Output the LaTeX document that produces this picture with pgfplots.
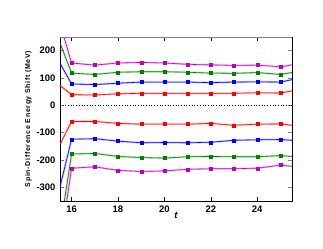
\documentclass[border=0pt]{standalone}
\usepackage{fontspec}
\setmainfont{Liberation Sans}
\newfontfamily\lblfont[LetterSpace=10]{Liberation Sans}
\usepackage{pgfplots}
\pgfplotsset{compat=1.18}
\definecolor{cRed}{RGB}{255,0,0}
\definecolor{cBlue}{RGB}{0,0,255}
\definecolor{cGreen}{RGB}{0,128,0}
\definecolor{cPurp}{RGB}{190,0,190}
\begin{document}
\begin{tikzpicture}
\begin{axis}[
  scale only axis, width=232bp, height=164bp,
  xmin=15.5, xmax=25.5, ymin=-350, ymax=250,
  xtick={16,18,20,22,24}, ytick={-300,-200,-100,0,100,200},
  tick align=inside,
  major tick length=4bp,
  ytick style={gray, line width=1pt},
  xtick style={black, line width=0.6pt},
  axis line style={line width=0.9pt},
  /pgf/number format/assume math mode=true,
  tick label style={font=\fontsize{9.5}{10}\selectfont\bfseries},
  xticklabel style={yshift=-1bp},
  yticklabel style={xshift=-1bp},
  xlabel={\textit{t}}, xlabel style={font=\fontsize{9.5}{10}\selectfont\bfseries, yshift=7bp},
  ylabel={Spin-Difference Energy Shift (MeV)},
  ylabel style={font=\lblfont\fontsize{7}{8}\selectfont\bfseries, yshift=-2bp},
  clip=true,
]
\pgfplotsset{
  band/.style={line width=2pt, opacity=0.25, forget plot},
  ser/.style={line width=0.6pt, no markers},
  mk/.style={only marks, mark=square*, mark size=1.5bp},
}
% positive series
\addplot[band, cPurp] coordinates {(15.5,299)(16,155)(17,147)(18,155)(19,157)(20,155)(21,150)(22,148)(23,146)(24,147)(25,141)(25.5,148)};
\addplot[ser, cPurp] coordinates {(15.5,299)(16,155)(17,147)(18,155)(19,157)(20,155)(21,150)(22,148)(23,146)(24,147)(25,141)(25.5,148)};
\addplot[mk, cPurp] coordinates {(16,155)(17,147)(18,155)(19,157)(20,155)(21,150)(22,148)(23,146)(24,147)(25,141)};
\addplot[band, cGreen] coordinates {(15.5,228)(16,118)(17,113)(18,121)(19,123)(20,123)(21,121)(22,118)(23,117)(24,120)(25,113)(25.5,120)};
\addplot[ser, cGreen] coordinates {(15.5,228)(16,118)(17,113)(18,121)(19,123)(20,123)(21,121)(22,118)(23,117)(24,120)(25,113)(25.5,120)};
\addplot[mk, cGreen] coordinates {(16,118)(17,113)(18,121)(19,123)(20,123)(21,121)(22,118)(23,117)(24,120)(25,113)};
\addplot[band, cBlue] coordinates {(15.5,154)(16,78)(17,76)(18,81)(19,85)(20,85)(21,85)(22,83)(23,85)(24,86)(25,85)(25.5,94)};
\addplot[ser, cBlue] coordinates {(15.5,154)(16,78)(17,76)(18,81)(19,85)(20,85)(21,85)(22,83)(23,85)(24,86)(25,85)(25.5,94)};
\addplot[mk, cBlue] coordinates {(16,78)(17,76)(18,81)(19,85)(20,85)(21,85)(22,83)(23,85)(24,86)(25,85)};
\addplot[band, cRed] coordinates {(15.5,73)(16,39)(17,38)(18,42)(19,44)(20,44)(21,44)(22,44)(23,44)(24,46)(25,45)(25.5,53)};
\addplot[ser, cRed] coordinates {(15.5,73)(16,39)(17,38)(18,42)(19,44)(20,44)(21,44)(22,44)(23,44)(24,46)(25,45)(25.5,53)};
\addplot[mk, cRed] coordinates {(16,39)(17,38)(18,42)(19,44)(20,44)(21,44)(22,44)(23,44)(24,46)(25,45)};
% negative series
\addplot[band, cRed] coordinates {(15.5,-143)(16,-59)(17,-59)(18,-66)(19,-69)(20,-69)(21,-69)(22,-66)(23,-73)(24,-69)(25,-68)(25.5,-73)};
\addplot[ser, cRed] coordinates {(15.5,-143)(16,-59)(17,-59)(18,-66)(19,-69)(20,-69)(21,-69)(22,-66)(23,-73)(24,-69)(25,-68)(25.5,-73)};
\addplot[mk, cRed] coordinates {(16,-59)(17,-59)(18,-66)(19,-69)(20,-69)(21,-69)(22,-66)(23,-73)(24,-69)(25,-68)};
\addplot[band, cBlue] coordinates {(15.5,-298)(16,-124)(17,-122)(18,-131)(19,-137)(20,-136)(21,-137)(22,-135)(23,-128)(24,-126)(25,-125)(25.5,-128)};
\addplot[ser, cBlue] coordinates {(15.5,-298)(16,-124)(17,-122)(18,-131)(19,-137)(20,-136)(21,-137)(22,-135)(23,-128)(24,-126)(25,-125)(25.5,-128)};
\addplot[mk, cBlue] coordinates {(16,-124)(17,-122)(18,-131)(19,-137)(20,-136)(21,-137)(22,-135)(23,-128)(24,-126)(25,-125)};
\addplot[band, cGreen] coordinates {(15.5,-455)(16,-178)(17,-176)(18,-187)(19,-191)(20,-193)(21,-188)(22,-187)(23,-188)(24,-188)(25,-184)(25.5,-187)};
\addplot[ser, cGreen] coordinates {(15.5,-455)(16,-178)(17,-176)(18,-187)(19,-191)(20,-193)(21,-188)(22,-187)(23,-188)(24,-188)(25,-184)(25.5,-187)};
\addplot[mk, cGreen] coordinates {(16,-178)(17,-176)(18,-187)(19,-191)(20,-193)(21,-188)(22,-187)(23,-188)(24,-188)(25,-184)};
\addplot[band, cPurp] coordinates {(15.5,-516)(16,-230)(17,-225)(18,-238)(19,-242)(20,-240)(21,-234)(22,-232)(23,-232)(24,-230)(25,-219)(25.5,-223)};
\addplot[ser, cPurp] coordinates {(15.5,-516)(16,-230)(17,-225)(18,-238)(19,-242)(20,-240)(21,-234)(22,-232)(23,-232)(24,-230)(25,-219)(25.5,-223)};
\addplot[mk, cPurp] coordinates {(16,-230)(17,-225)(18,-238)(19,-242)(20,-240)(21,-234)(22,-232)(23,-232)(24,-230)(25,-219)};
% zero line
\addplot[black, dotted, line width=0.7pt] coordinates {(15.5,0)(25.5,0)};
\draw[gray, line width=1.4pt] (rel axis cs:0,1) -- (rel axis cs:1,1);
\end{axis}
\path (current axis.south west) ++(-60bp,-48bp) coordinate (bbA);
\path (current axis.north east) ++(31bp,37bp) coordinate (bbB);
\useasboundingbox (bbA) rectangle (bbB);
\end{tikzpicture}
\end{document}
